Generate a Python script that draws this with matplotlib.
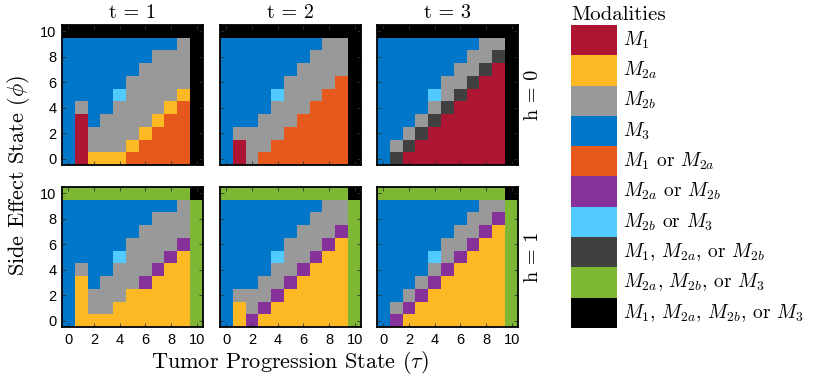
import numpy as np
import matplotlib
matplotlib.use("Agg")
import matplotlib.pyplot as plt
from matplotlib.colors import ListedColormap

# ---------------- data ----------------
# category codes
codes = ["R", "Y", "G", "B", "O", "P", "L", "D", "N", "K"]
labels = [r"$M_1$", r"$M_{2a}$", r"$M_{2b}$", r"$M_3$",
          r"$M_1$ or $M_{2a}$", r"$M_{2a}$ or $M_{2b}$", r"$M_{2b}$ or $M_3$",
          r"$M_1$, $M_{2a}$, or $M_{2b}$", r"$M_{2a}$, $M_{2b}$, or $M_3$",
          r"$M_1$, $M_{2a}$, $M_{2b}$, or $M_3$"]
colors = ["#AD1533", "#FDB924", "#999999", "#0077C8", "#E55A1C",
          "#87329A", "#50CAFF", "#404040", "#7DB733", "#000000"]

t_values = [1, 2, 3]
h_values = [0, 1]
tau_ticks = [0, 2, 4, 6, 8, 10]
phi_ticks = [0, 2, 4, 6, 8, 10]

# rows: phi = 10 (top) ... 0 (bottom); columns: tau = 0 ... 10
grid_h0_t1 = ["KKKKKKKKKKK",
              "BBBBBBBBBGK",
              "BBBBBBBGGGK",
              "BBBBBBGGGGK",
              "BBBBBGGGGGK",
              "BBBBLGGGGYK",
              "BGBBGGGGYOK",
              "BRBGGGGYOOK",
              "BRGGGGYOOOK",
              "BRGGGYOOOOK",
              "BRYYYOOOOOK"]
grid_h0_t2 = ["KKKKKKKKKKK",
              "BBBBBBBBGGK",
              "BBBBBBBGGGK",
              "BBBBBBGGGGK",
              "BBBBBGGGGOK",
              "BBBBLGGGOOK",
              "BBBBGGGOOOK",
              "BBBGGGOOOOK",
              "BGGGGOOOOOK",
              "BRGGOOOOOOK",
              "BRGOOOOOOOK"]
grid_h0_t3 = ["KKKKKKKKKKK",
              "BBBBBBBBGGK",
              "BBBBBBBGGDK",
              "BBBBBBGGDRK",
              "BBBBBGGDRRK",
              "BBBBLGDRRRK",
              "BBBBGDRRRRK",
              "BBBGDRRRRRK",
              "BBGDRRRRRRK",
              "BGDRRRRRRRK",
              "BDRRRRRRRRK"]
grid_h1_t1 = ["NNNNNNNNNNK",
              "BBBBBBBBBGN",
              "BBBBBBBGGGN",
              "BBBBBBGGGGN",
              "BBBBBGGGGPN",
              "BBBBLGGGPYN",
              "BGBBGGGPYYN",
              "BYBGGGPYYYN",
              "BYGGGYYYYYN",
              "BYGGYYYYYYN",
              "BYYYYYYYYYN"]
grid_h1_t2 = ["NNNNNNNNNNK",
              "BBBBBBBBGGN",
              "BBBBBBBGGGN",
              "BBBBBBGGGPN",
              "BBBBBGGGPYN",
              "BBBBLGGPYYN",
              "BBBBGGPYYYN",
              "BBBGGPYYYYN",
              "BGGGPYYYYYN",
              "BYGPYYYYYYN",
              "BYPYYYYYYYN"]
grid_h1_t3 = ["NNNNNNNNNNK",
              "BBBBBBBBGGN",
              "BBBBBBBGGPN",
              "BBBBBBGGPYN",
              "BBBBBGGPYYN",
              "BBBBLGPYYYN",
              "BBBBGPYYYYN",
              "BBBGPYYYYYN",
              "BBGPYYYYYYN",
              "BGPYYYYYYYN",
              "BPYYYYYYYYN"]

grids = [[grid_h0_t1, grid_h0_t2, grid_h0_t3],
         [grid_h1_t1, grid_h1_t2, grid_h1_t3]]

# ---------------- plotting ----------------
plt.rcParams["mathtext.fontset"] = "cm"
SERIF = ["cmr10", "DejaVu Serif"]
SANS = ["Liberation Sans", "DejaVu Sans"]

cmap = ListedColormap(colors)
W, H = 827, 379
fig = plt.figure(figsize=(W / 100, H / 100), dpi=100)

col_left = [62, 220, 377]
row_top = [25, 187]
pw, ph = 141, 140

def to_idx(grid):
    return np.array([[codes.index(c) for c in row] for row in grid])

for r in range(2):
    for c in range(3):
        ax = fig.add_axes([col_left[c] / W, 1 - (row_top[r] + ph) / H, pw / W, ph / H])
        ax.imshow(to_idx(grids[r][c]), cmap=cmap, vmin=-0.5, vmax=9.5,
                  interpolation="nearest", origin="upper",
                  extent=(-0.5, 10.5, -0.5, 10.5), aspect="auto")
        ax.set_xlim(-0.5, 10.5)
        ax.set_ylim(-0.5, 10.5)
        ax.set_xticks(tau_ticks)
        ax.set_yticks(phi_ticks)
        ax.tick_params(direction="in", length=3, width=0.6, color="#333333",
                       top=True, right=True, labelsize=10.5, pad=4)
        if c != 0:
            ax.set_yticklabels([])
        if r != 1:
            ax.set_xticklabels([])
        for lab in ax.get_xticklabels() + ax.get_yticklabels():
            lab.set_family(SANS)
        for s in ax.spines.values():
            s.set_linewidth(1.3)
            s.set_color("black")
        if r == 0:
            ax.set_title(f"t = {t_values[c]}", family=SERIF, fontsize=14.5, pad=5)
        if c == 2:
            fig.text((col_left[c] + pw + 15) / W, 1 - (row_top[r] + ph / 2) / H,
                     f"h = {h_values[r]}", rotation=90, family=SERIF, fontsize=14.5,
                     ha="center", va="center")

fig.text(290 / W, 1 - 362 / H, r"Tumor Progression State ($\tau$)", family=SERIF,
         fontsize=16, ha="center", va="center")
fig.text(19 / W, 1 - 176 / H, r"Side Effect State ($\phi$)", family=SERIF,
         fontsize=16, ha="center", va="center", rotation=90)

# legend
leg_top, leg_h = 25, 303
lax = fig.add_axes([571 / W, 1 - (leg_top + leg_h) / H, 46 / W, leg_h / H])
lax.imshow(np.arange(len(codes)).reshape(-1, 1), cmap=cmap, vmin=-0.5, vmax=9.5,
           aspect="auto", interpolation="nearest",
           extent=(-0.5, 0.5, len(codes) - 0.5, -0.5))
lax.set_xticks([])
lax.set_yticks([])
for s in lax.spines.values():
    s.set_visible(False)
step = leg_h / len(codes)
for i, lab in enumerate(labels):
    fig.text(623 / W, 1 - (leg_top + step * (i + 0.5)) / H, lab, family=SERIF,
             fontsize=14, ha="left", va="center")
fig.text(571 / W, 1 - 15 / H, "Modalities", family=SERIF, fontsize=15,
         ha="left", va="center")

fig.savefig("out.png", dpi=100)
